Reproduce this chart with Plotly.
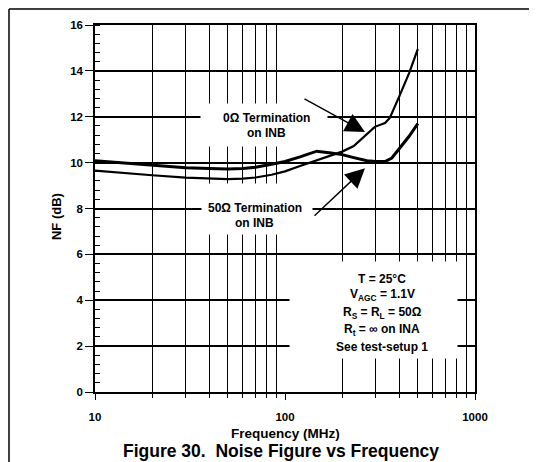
import math
import plotly.graph_objects as go

# 0 ohm termination on INB
freq_0ohm = [10, 15, 20, 30, 40, 50, 60, 70, 85, 100, 120, 150, 180, 200, 230, 268, 297, 336, 356, 400, 450, 500]
nf_0ohm = [9.65, 9.52, 9.45, 9.35, 9.3, 9.28, 9.3, 9.35, 9.47, 9.62, 9.85, 10.12, 10.35, 10.48, 10.72, 11.22, 11.56, 11.73, 11.95, 12.9, 13.9, 14.95]

# 50 ohm termination on INB
freq_50ohm = [10, 15, 20, 30, 40, 50, 60, 70, 85, 100, 120, 147, 175, 200, 230, 270, 300, 336, 365, 400, 450, 500]
nf_50ohm = [10.08, 9.97, 9.9, 9.78, 9.74, 9.72, 9.74, 9.8, 9.93, 10.05, 10.25, 10.5, 10.42, 10.35, 10.22, 10.08, 10.05, 10.05, 10.2, 10.6, 11.15, 11.7]

dashed_grid = [30, 300]

label_0ohm = ["0Ω Termination", "on INB"]
label_0ohm_nf = [11.94, 11.3]
label_50ohm = ["50Ω Termination", "on INB"]
label_50ohm_nf = [8.04, 7.36]

conditions = [
    "T = 25°C",
    "V<sub>AGC</sub> = 1.1V",
    "R<sub>S</sub> = R<sub>L</sub> = 50Ω",
    "R<sub>t</sub> = ∞ on INA",
    "See test-setup 1",
]
condition_nf = [4.93, 4.23, 3.44, 2.70, 1.96]

FONT = "Liberation Sans"
lg = math.log10

fig = go.Figure()

fig.add_trace(go.Scatter(
    x=freq_50ohm, y=nf_50ohm, mode='lines', name='50Ω Termination on INB',
    line=dict(color='black', width=3)
))
fig.add_trace(go.Scatter(
    x=freq_0ohm, y=nf_0ohm, mode='lines', name='0Ω Termination on INB',
    line=dict(color='black', width=2.2)
))

# dashed look for the 30 and 300 MHz grid lines
for f in dashed_grid:
    fig.add_shape(type='line', xref='x', yref='y', x0=lg(f), x1=lg(f), y0=0, y1=16,
                  line=dict(color='white', width=2, dash='3px,6px'), layer='between')

# white label boxes that break the grid
box = dict(showarrow=False, bgcolor='white', text='', xref='x', yref='y')
fig.add_annotation(x=1.889, y=11.65, width=124, height=40, **box)
fig.add_annotation(x=1.853, y=7.98, width=108, height=48, **box)
fig.add_annotation(x=2.466, y=3.575, width=165, height=94, **box)

label_font = dict(family=FONT, size=12, color='black', weight='bold')
for txt, yv in zip(label_0ohm, label_0ohm_nf):
    fig.add_annotation(x=1.905, y=yv, text=txt, showarrow=False, font=label_font,
                       xref='x', yref='y')
for txt, yv in zip(label_50ohm, label_50ohm_nf):
    fig.add_annotation(x=1.842, y=yv, text=txt, showarrow=False, font=label_font,
                       xref='x', yref='y')

for txt, yv in zip(conditions, condition_nf):
    fig.add_annotation(x=2.512, y=yv, text=txt, showarrow=False, xref='x', yref='y',
                       font=dict(family=FONT, size=12, color='black', weight='bold'))

# arrows
fig.add_annotation(x=2.421, y=11.33, ax=-62, ay=-34, text='', showarrow=True,
                   arrowhead=2, arrowsize=2.8, arrowwidth=1.4, arrowcolor='black',
                   xref='x', yref='y')
fig.add_annotation(x=2.421, y=9.76, ax=-52, ay=49, text='', showarrow=True,
                   arrowhead=2, arrowsize=2.8, arrowwidth=1.4, arrowcolor='black',
                   xref='x', yref='y')

# axis titles and caption
fig.add_annotation(x=0.5, y=-0.1144, xref='paper', yref='paper', text="Frequency (MHz)",
                   xanchor='center', yanchor='middle',
                   showarrow=False, font=dict(family=FONT, size=13.5, weight='bold'))
fig.add_annotation(x=-0.1026, y=0.4768, xref='paper', yref='paper', text="NF (dB)", textangle=-90,
                   xanchor='center', yanchor='middle',
                   showarrow=False, font=dict(family=FONT, size=13, weight='bold'))
fig.add_annotation(x=0.49, y=-0.1608, xref='paper', yref='paper',
                   text="Figure 30.  Noise Figure vs Frequency",
                   xanchor='center', yanchor='middle',
                   showarrow=False, font=dict(family=FONT, size=17.5, weight='bold'))

# page frame (left and top edges)
fig.add_shape(type='line', xref='paper', yref='paper', x0=-0.2263, x1=-0.2263, y0=-0.25, y1=1.0436,
              line=dict(color='black', width=1.5))
fig.add_shape(type='line', xref='paper', yref='paper', x0=-0.2263, x1=1.3, y0=1.0436, y1=1.0436,
              line=dict(color='black', width=1.5))

fig.update_xaxes(
    type='log', range=[1, 3], dtick=1, exponentformat='none',
    showline=True, mirror=True, linecolor='black', linewidth=1.5,
    showgrid=False, ticks='outside', ticklen=6, tickcolor='black',
    tickfont=dict(family=FONT, size=11.5, color='black', weight='bold'),
    ticklabelstandoff=7,
    minor=dict(dtick='D1', showgrid=True, gridcolor='black', gridwidth=1,
               ticks='outside', ticklen=4, tickcolor='black'),
)
fig.update_yaxes(
    range=[0, 16], dtick=2,
    showline=True, mirror=True, linecolor='black', linewidth=1.5,
    showgrid=True, gridcolor='black', gridwidth=1.5, zeroline=False,
    ticks='outside', ticklen=8, tickcolor='black',
    tickfont=dict(family=FONT, size=11.5, color='black', weight='bold'),
    minor=dict(dtick=0.4, ticks='inside', ticklen=5, tickcolor='black', showgrid=False),
)

# page body adds an 8px offset, so margins are shifted to compensate
fig.update_layout(
    width=537, height=462,
    margin=dict(l=87, r=70, t=17, b=78),
    plot_bgcolor='white', paper_bgcolor='white',
    showlegend=False,
    font=dict(family=FONT, color='black'),
)

fig.write_html("out.html")
